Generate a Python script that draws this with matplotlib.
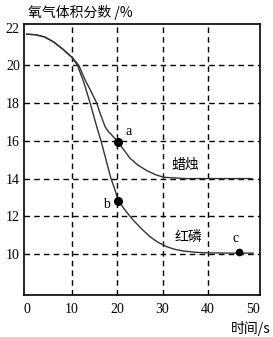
import matplotlib
matplotlib.use("Agg")
import matplotlib.pyplot as plt

# === Data ===
candle_t = [0, 2, 4, 6, 8, 10, 11.5, 12.9, 14.2, 15.45, 16.2, 17.3, 18.0,
            18.8, 20.1, 21.5, 22.8, 24.5, 26.5, 28.5, 30.2, 35, 40, 45, 49.7]
candle_y = [21.65, 21.62, 21.5, 21.23, 20.85, 20.42, 20.0, 19.22, 18.62, 18.0,
            17.46, 16.75, 16.5, 16.3, 15.96, 15.5, 15.08, 14.72, 14.42, 14.2,
            14.07, 14.0, 14.0, 14.0, 14.0]

phos_t = [0, 2, 4, 6, 8, 10, 11.2, 12.6, 14.0, 15.45, 16.4, 17.5, 18.6, 19.5,
          20.2, 21.8, 23.5, 25.3, 27.2, 29.0, 30.9, 32.7, 34.6, 37.5, 40, 45, 50]
phos_y = [21.65, 21.62, 21.5, 21.23, 20.85, 20.42, 20.0, 19.1, 18.0, 16.75,
          16.0, 15.0, 14.0, 13.4, 12.83, 12.3, 11.8, 11.35, 10.92, 10.62,
          10.39, 10.25, 10.16, 10.09, 10.06, 10.05, 10.05]

marks = {"a": (20.1, 15.96), "b": (20.25, 12.82), "c": (46.9, 10.12)}
mark_labels = {"a": (22.6, 16.5), "b": (17.7, 12.65), "c": (46.0, 10.85)}

x_ticks = [0, 10, 20, 30, 40, 50]
y_ticks = [10, 12, 14, 16, 18, 20, 22]

cjk = ["Noto Sans CJK SC", "DejaVu Sans"]
num_font = "Liberation Serif"

fig = plt.figure(figsize=(2.73, 3.37), dpi=100)
ax = fig.add_axes([0.0879, 0.1246, 0.8645, 0.8042])

ax.plot(candle_t, candle_y, color="#333333", lw=1.0)
ax.plot(phos_t, phos_y, color="#333333", lw=1.0)

for k, (x, y) in marks.items():
    ax.plot(x, y, "o", color="black", ms=5.5 if k != "c" else 4.5, zorder=5)
    lx, ly = mark_labels[k]
    ax.text(lx, ly, k, fontsize=10, family=num_font, ha="center", va="center")

ax.text(35, 14.7, "蜡烛", fontsize=10, family=cjk, ha="center", va="center")
ax.text(35.6, 10.9, "红磷", fontsize=10, family=cjk, ha="center", va="center")

# dashed grid
for x in [10, 20, 30, 40]:
    ax.axvline(x, color="black", lw=1.0, ls=(0, (4, 3)), zorder=0)
for y in [10, 12, 14, 16, 18, 20]:
    ax.axhline(y, color="black", lw=1.0, ls=(0, (4, 3)), zorder=0)

ax.set_xlim(-0.6, 51.5)
ax.set_ylim(7.83, 22.19)
ax.set_xticks(x_ticks)
ax.set_yticks(y_ticks)
ax.tick_params(length=0, labelsize=10, pad=6)
for lab in ax.get_xticklabels() + ax.get_yticklabels():
    lab.set_family(num_font)
ax.tick_params(axis="y", pad=3)
for s in ax.spines.values():
    s.set_linewidth(1.2)

fig.text(28 / 273, 1 - 13 / 337, "氧气体积分数 /%", fontsize=10, family=cjk,
         ha="left", va="center")
fig.text(271 / 273, 1 - 328 / 337, "时间/s", fontsize=10, family=cjk,
         ha="right", va="center")

fig.savefig("out.png", dpi=100)
